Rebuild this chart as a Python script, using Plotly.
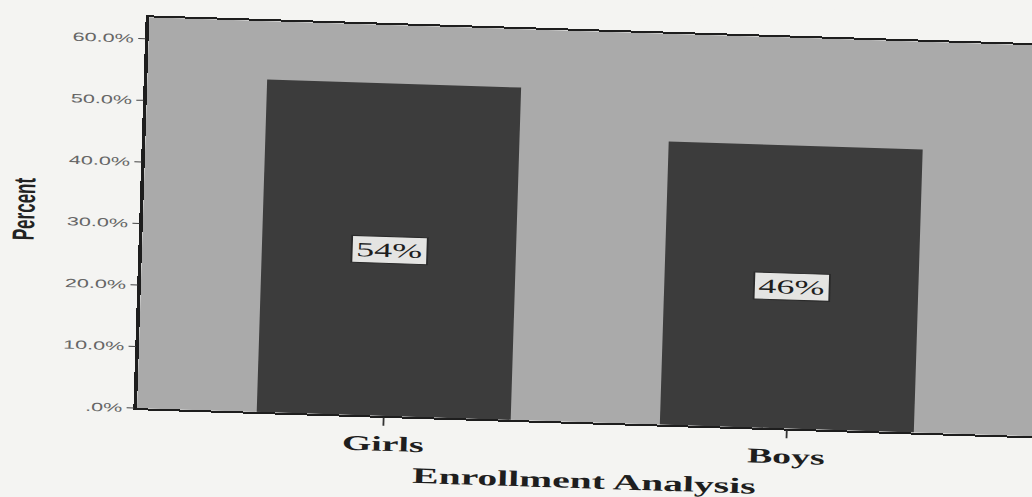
import plotly.graph_objects as go

# Enrollment split by gender (percent of all enrolled students)
categories = ["Girls", "Boys"]
percent = [54, 46]
bar_labels = ["54%", "46%"]
y_tick_values = [0, 10, 20, 30, 40, 50, 60]
y_tick_labels = [".0%", "10.0%", "20.0%", "30.0%", "40.0%", "50.0%", "60.0%"]

PAGE = "#f4f4f2"
PLOT_BG = "#aaaaaa"
BAR = "#3c3c3c"
INK = "#1e1e1e"
SERIF = "Liberation Serif, Times New Roman, serif"
SANS = "Liberation Sans, Arial, sans-serif"
NARROW = "Liberation Sans Narrow, Arial Narrow, Liberation Sans, sans-serif"

fig = go.Figure(
    go.Bar(
        x=categories,
        y=percent,
        width=0.63,
        marker=dict(color=BAR, line=dict(width=0)),
        hoverinfo="skip",
    )
)

# Value boxes centred half-way up each bar
for cat, val, lab in zip(categories, percent, bar_labels):
    fig.add_annotation(
        x=cat, y=val / 2, text=lab, showarrow=False,
        font=dict(family=SERIF, size=20, color=INK),
        bgcolor="#e4e4e2", bordercolor="#2a2a2a", borderwidth=1, borderpad=2,
    )

fig.add_annotation(
    text="Enrollment Analysis", xref="paper", yref="paper",
    x=0.5, y=-0.15, xanchor="center", yanchor="middle", showarrow=False,
    font=dict(family=SERIF, size=22, color=INK, weight="bold"),
)
fig.add_annotation(
    text="Percent", xref="paper", yref="paper",
    x=-0.132, y=0.5, xanchor="center", yanchor="middle", textangle=-90,
    showarrow=False, font=dict(family=NARROW, size=17, color="#222", weight="bold"),
)

fig.update_layout(
    width=580, height=497,
    margin=dict(l=79, r=0, t=29, b=77),
    paper_bgcolor=PAGE, plot_bgcolor=PLOT_BG,
    showlegend=False,
    xaxis=dict(
        range=[-0.612, 1.615], showgrid=False, zeroline=False,
        showline=True, linecolor=INK, linewidth=1.5, mirror=True,
        ticks="outside", ticklen=8, tickwidth=1.2, tickcolor="#333",
        tickfont=dict(family=SERIF, size=21, color=INK, weight="bold"),
    ),
    yaxis=dict(
        range=[0, 63.5], showgrid=False, zeroline=False,
        showline=True, linecolor=INK, linewidth=1.5, mirror=True,
        tickvals=y_tick_values, ticktext=y_tick_labels,
        ticks="outside", ticklen=4, tickwidth=1, tickcolor="#444",
        tickfont=dict(family=SANS, size=12, color="#666"),
    ),
)

# Widen the chart horizontally and give it the slight clockwise tilt of the printed page
page_script = """
var gd = document.getElementById('{plot_id}');
document.documentElement.style.overflow = 'hidden';
document.body.style.overflow = 'hidden';
document.body.style.margin = '0';
document.body.style.background = '#f4f4f2';
gd.style.transformOrigin = '0 0';
gd.style.transform = 'translate(516px,248px) rotate(1.8deg) translate(-516px,-248px) scaleX(1.8)';
"""

fig.write_html("out.html", config={"displayModeBar": False}, post_script=page_script)
